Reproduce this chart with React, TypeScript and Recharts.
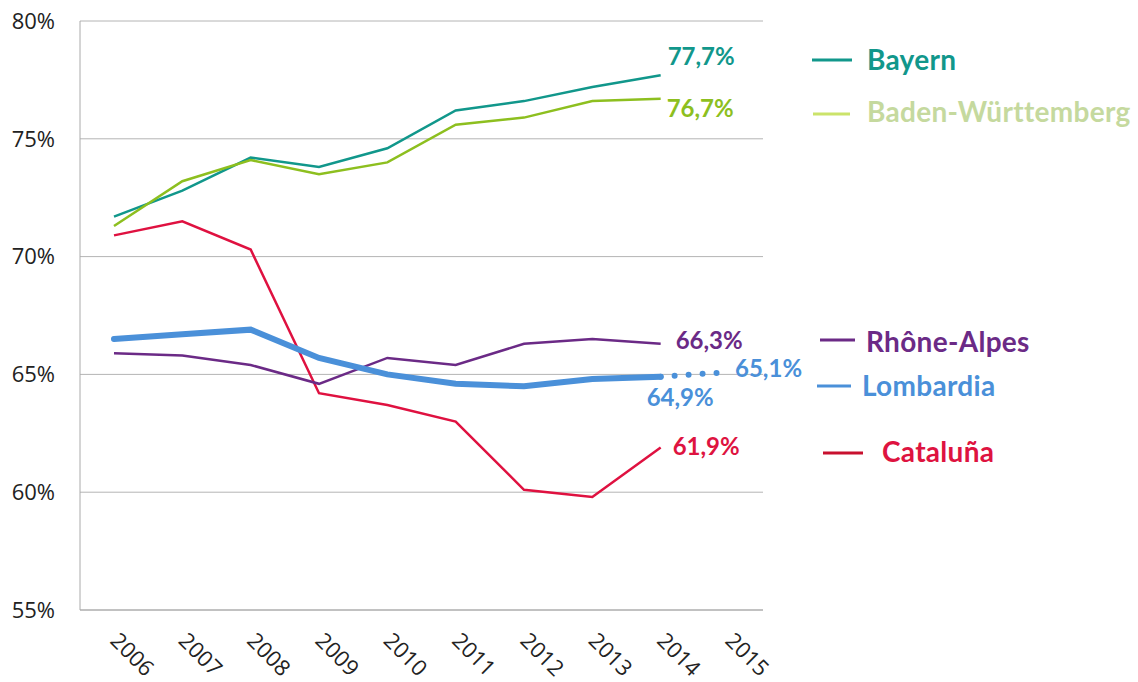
import React from "react";
import { LineChart, Line, XAxis, YAxis, CartesianGrid } from "recharts";

const years = ["2006", "2007", "2008", "2009", "2010", "2011", "2012", "2013", "2014", "2015"];
const bayern = [71.7, 72.8, 74.2, 73.8, 74.6, 76.2, 76.6, 77.2, 77.7, null];
const badenW = [71.3, 73.2, 74.1, 73.5, 74.0, 75.6, 75.9, 76.6, 76.7, null];
const cataluna = [70.9, 71.5, 70.3, 64.2, 63.7, 63.0, 60.1, 59.8, 61.9, null];
const rhone = [65.9, 65.8, 65.4, 64.6, 65.7, 65.4, 66.3, 66.5, 66.3, null];
const lombardia = [66.5, 66.7, 66.9, 65.7, 65.0, 64.6, 64.5, 64.8, 64.9, null];
const lombardiaTarget = [null, null, null, null, null, null, null, null, 64.9, 65.1];
const yTicks = [55, 60, 65, 70, 75, 80];

const data = years.map((year, i) => ({
  year,
  bayern: bayern[i],
  badenW: badenW[i],
  cataluna: cataluna[i],
  rhone: rhone[i],
  lombardia: lombardia[i],
  lombardiaTarget: lombardiaTarget[i],
}));

const fmt = (v: number) => v.toFixed(1).replace(".", ",") + "%";

const BOLD = "Lato, 'Open Sans', sans-serif";
const REG = "'Open Sans', 'DejaVu Sans', sans-serif";

// end label: only on one index, offset from the point
const endLabel = (color: string, at: number, dx: number, dy: number) => (props: any) => {
  const { x, y, index, value } = props;
  if (index !== at || value == null) return null;
  return (
    <text x={x + dx} y={y + dy} fill={color} fontFamily={BOLD} fontWeight={700} fontSize={24}>
      {fmt(value)}
    </text>
  );
};

const XTick = (props: any) => {
  const { x, y, payload } = props;
  const ax = x - 5;
  const ay = y + 30;
  return (
    <text x={ax} y={ay} transform={`rotate(45 ${ax} ${ay})`} fill="#222" fontFamily={REG} fontSize={22}>
      {payload.value}
    </text>
  );
};

const legendItems = [
  { name: "Bayern", line: "#11978b", text: "#11978b", x1: 812, x2: 852, ly: 60, tx: 867, ty: 70 },
  { name: "Baden-Württemberg", line: "#cbe36a", text: "#c5d99e", x1: 813, x2: 850, ly: 114, tx: 867, ty: 122 },
  { name: "Rhône-Alpes", line: "#6b2a86", text: "#6b2a86", x1: 820, x2: 855, ly: 340, tx: 866, ty: 352 },
  { name: "Lombardia", line: "#4a90d9", text: "#4a90d9", x1: 817, x2: 851, ly: 386, tx: 862, ty: 396 },
  { name: "Cataluña", line: "#c8102e", text: "#de1340", x1: 823, x2: 863, ly: 453, tx: 882, ty: 462 },
];

export default function App() {
  return (
    <div style={{ position: "absolute", left: 0, top: 0, width: 1138, height: 682, background: "#fff" }}>
      <LineChart width={1138} height={682} data={data} margin={{ top: 21, right: 375, bottom: 0, left: 0 }}>
        <CartesianGrid vertical={false} stroke="#b4b4b4" strokeWidth={1} />
        <XAxis
          dataKey="year"
          height={72}
          padding={{ left: 34, right: 34 }}
          axisLine={{ stroke: "#aaa" }}
          tickLine={false}
          tickSize={0}
          tick={<XTick />}
          interval={0}
        />
        <YAxis
          width={80}
          domain={[55, 80]}
          ticks={yTicks}
          tickFormatter={(v) => `${v}%`}
          axisLine={{ stroke: "#aaa" }}
          tickLine={false}
          tickSize={0}
          tickMargin={25}
          tick={{ fill: "#222", fontFamily: REG, fontSize: 22 }}
        />
        <Line dataKey="bayern" stroke="#11978b" strokeWidth={2.5} dot={false} isAnimationActive={false}
          label={endLabel("#11978b", 8, 7, -10)} />
        <Line dataKey="badenW" stroke="#8dbf1f" strokeWidth={2.5} dot={false} isAnimationActive={false}
          label={endLabel("#8dbf1f", 8, 6, 18)} />
        <Line dataKey="cataluna" stroke="#df1140" strokeWidth={2.5} dot={false} isAnimationActive={false}
          label={endLabel("#de1340", 8, 12, 8)} />
        <Line dataKey="rhone" stroke="#6b2a86" strokeWidth={2.5} dot={false} isAnimationActive={false}
          label={endLabel("#6b2a86", 8, 15, 5)} />
        <Line dataKey="lombardia" stroke="#4a90d9" strokeWidth={6} strokeLinecap="round" dot={false}
          isAnimationActive={false} label={endLabel("#4a90d9", 8, -14, 29)} />
        <Line dataKey="lombardiaTarget" stroke="#4a90d9" strokeWidth={6} strokeDasharray="0 14"
          strokeLinecap="round" dot={false} isAnimationActive={false}
          label={endLabel("#4a90d9", 9, 6, 5)} />
      </LineChart>
      <svg width={1138} height={682} style={{ position: "absolute", left: 0, top: 0, pointerEvents: "none" }}>
        {legendItems.map((d) => (
          <g key={d.name}>
            <line x1={d.x1} x2={d.x2} y1={d.ly} y2={d.ly} stroke={d.line} strokeWidth={3} />
            <text x={d.tx} y={d.ty} fill={d.text} fontFamily={BOLD} fontWeight={700} fontSize={28}
              letterSpacing={0.3}>
              {d.name}
            </text>
          </g>
        ))}
      </svg>
    </div>
  );
}
